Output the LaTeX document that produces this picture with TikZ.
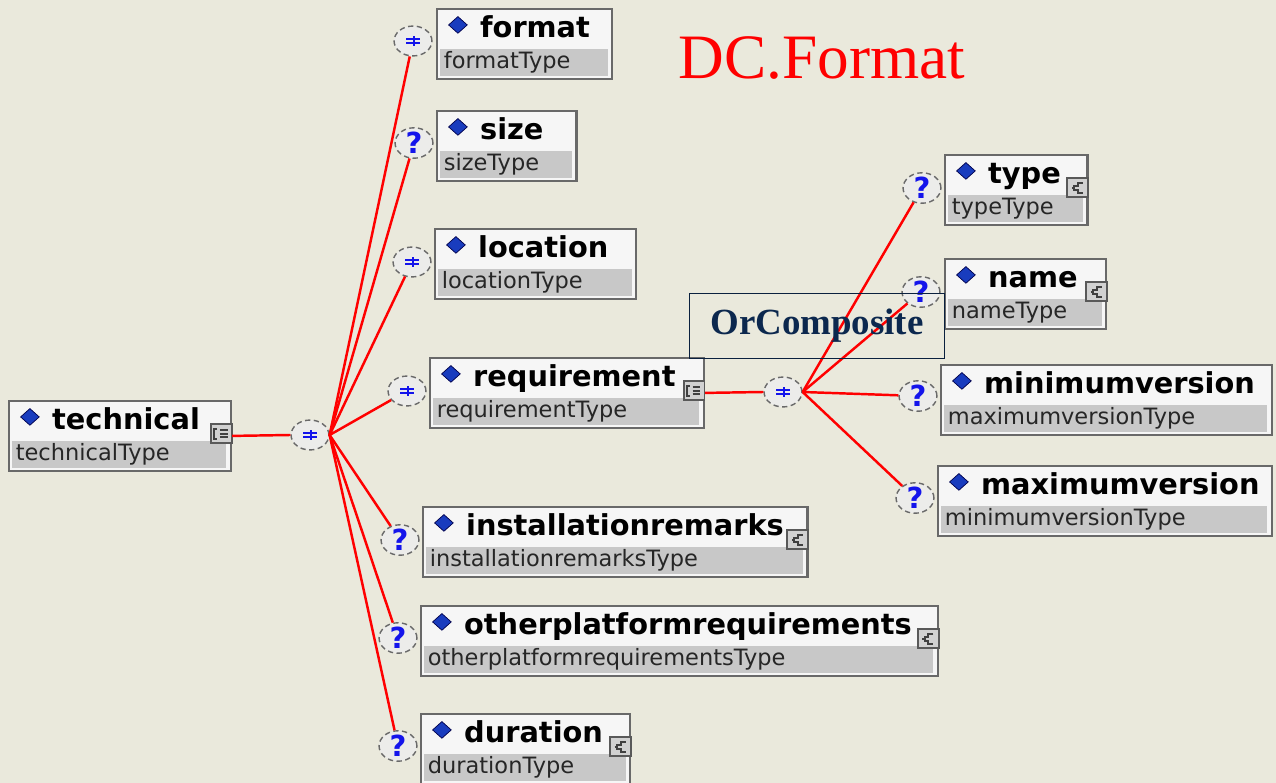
\documentclass[tikz,border=0pt]{standalone}
\usepackage{fontspec}
\setmainfont{Liberation Serif}
\newfontfamily\djv{DejaVu Sans}
\usetikzlibrary{positioning,shapes.geometric}

\definecolor{bgbeige}{RGB}{234,233,220}
\definecolor{framegray}{RGB}{105,105,105}
\definecolor{rowgray}{RGB}{200,200,200}
\definecolor{headwhite}{RGB}{246,246,246}
\definecolor{xsblue}{RGB}{20,20,235}
\definecolor{diablue}{RGB}{25,60,190}
\definecolor{navy}{RGB}{12,40,78}
\definecolor{compfill}{RGB}{236,236,234}

\def\pxu{0.5669pt}

\tikzset{
  elem/.style={draw=framegray, line width=1.2pt, fill=headwhite, anchor=north west,
    minimum height=70*\pxu, inner sep=0pt},
  elemtype/.style={fill=rowgray, anchor=south west, minimum height=28*\pxu,
    inner xsep=2pt, inner ysep=0pt, align=left, text=black!85,
    font=\djv\fontsize{12.8pt}{14pt}\selectfont},
  elemname/.style={anchor=base west, inner sep=0pt,
    font=\djv\bfseries\fontsize{16.4pt}{18pt}\selectfont},
  elemdia/.style={diamond, fill=diablue, draw=black!70!blue, line width=0.4pt,
    minimum width=19*\pxu, minimum height=17*\pxu, inner sep=0pt},
  iconbox/.style={draw=black!65, fill=black!18, line width=1.1pt,
    minimum width=21*\pxu, minimum height=19*\pxu, inner sep=0pt},
  iconmark/.style={black!75, line width=1.1pt},
  comp/.style={ellipse, draw=framegray, densely dashed, line width=0.8pt, fill=compfill,
    minimum width=38*\pxu, minimum height=30*\pxu, inner sep=0pt,
    text=xsblue, font=\djv\bfseries\fontsize{16.5pt}{16pt}\selectfont},
  seqmark/.style={xsblue, line width=1.1pt},
  link/.style={red, line width=1.4pt},
}

% element box: name, left, top, width, title, type, icon (0 none, 1 list, 2 type)
\newcommand{\xelem}[7]{%
  \node[elem, minimum width=#4*\pxu] (#1) at (#2,#3) {};
  \pgfmathsetlengthmacro\rowwd{(#4-8)*\pxu-4pt}%
  \node[elemtype, text width=\rowwd] (#1t) at ([xshift=4*\pxu, yshift=3*\pxu]#1.south west) {#6};
  \node[elemdia] (#1d) at ([xshift=22*\pxu, yshift=-17*\pxu]#1.north west) {};
  \node[elemname] (#1n) at ([xshift=44*\pxu, yshift=-30*\pxu]#1.north west) {#5};
  \ifcase#7\or
    \node[iconbox] (#1i) at ([xshift=-11*\pxu, yshift=-34*\pxu]#1.north east) {};
    \draw[iconmark] ([shift={(-2.4pt,3pt)}]#1i.center) -- ++(-1.6pt,0) -- ++(0,-6pt) -- ++(1.6pt,0);
    \draw[iconmark] ([shift={(-0.8pt,2pt)}]#1i.center) -- ++(4.4pt,0);
    \draw[iconmark] ([shift={(-0.8pt,0pt)}]#1i.center) -- ++(4.4pt,0);
    \draw[iconmark] ([shift={(-0.8pt,-2pt)}]#1i.center) -- ++(4.4pt,0);
  \or
    \node[iconbox] (#1i) at ([xshift=-11*\pxu, yshift=-34*\pxu]#1.north east) {};
    \draw[iconmark] ([shift={(3pt,2.8pt)}]#1i.center) -- ++(-2.8pt,0) -- ++(0,-1.8pt) -- ++(-2pt,0)
      -- ++(0,-2pt) -- ++(2pt,0) -- ++(0,-1.8pt) -- ++(2.8pt,0);
    \draw[iconmark] ([shift={(-3.2pt,0pt)}]#1i.center) -- ++(1.4pt,0);
  \fi
}

% compositors
\newcommand{\xseq}[2]{%
  \node[comp] (#1) at (#2) {};
  \draw[seqmark] ([shift={(-3.9pt,1.3pt)}]#1.center) -- ++(7.8pt,0);
  \draw[seqmark] ([shift={(-3.9pt,-1.3pt)}]#1.center) -- ++(7.8pt,0);
  \draw[seqmark] ([shift={(0.5pt,-2.6pt)}]#1.center) -- ++(0,5.2pt);
}
\newcommand{\xopt}[2]{\node[comp] (#1) at (#2) {?};}

\begin{document}
\begin{tikzpicture}[x=0.02cm, y=-0.02cm]
  \useasboundingbox (0,0) rectangle (1276,783);
  \fill[bgbeige] (0,0) rectangle (1276,783);

  % title
  \node[text=red, font=\fontsize{36pt}{38pt}\selectfont, inner sep=0pt] (dctitle) at (822,58) {DC.Format};

  \coordinate (c0p) at (310,435);
  \coordinate (cRp) at (783,392);

  \xelem{tech}{8}{400}{223}{technical}{technicalType}{1}
  \xelem{fmt}{436}{8}{176}{format}{formatType}{0}
  \xelem{size}{436}{110}{140}{size}{sizeType}{0}
  \xelem{loc}{434}{228}{202}{location}{locationType}{0}
  \xelem{req}{429}{357}{275}{requirement}{requirementType}{1}
  \xelem{inst}{422}{506}{386}{installationremarks}{installationremarksType}{2}
  \xelem{other}{420}{605}{519}{otherplatformrequirements}{otherplatformrequirementsType}{2}
  \xelem{dur}{420}{713}{210}{duration}{durationType}{2}
  \xelem{type}{944}{154}{143}{type}{typeType}{2}
  \xelem{name}{944}{258}{162}{name}{nameType}{2}
  \xelem{minv}{940}{364}{332}{minimumversion}{maximumversionType}{0}
  \xelem{maxv}{937}{465}{335}{maximumversion}{minimumversionType}{0}

  \xseq{c0}{c0p}
  \xseq{cfmt}{413,41}
  \xopt{csize}{414,143}
  \xseq{cloc}{412,262}
  \xseq{creq}{407,391}
  \xopt{cinst}{400,540}
  \xopt{cother}{398,638}
  \xopt{cdur}{398,746}
  \xseq{cR}{cRp}
  \xopt{ctype}{922,188}
  \xopt{cname}{921,292}
  \xopt{cmin}{918,396}
  \xopt{cmax}{915,498}

  \draw[link] (tech.east) -- (c0.west);
  \foreach \c in {cfmt,csize,cloc,creq,cinst,cother,cdur}
    \draw[link] (c0.east) -- (\c);
  \draw[link] (req.east) -- (cR.west);
  \foreach \c in {ctype,cname,cmin,cmax}
    \draw[link] (cR.east) -- (\c);

  \node[draw=navy!80!black, line width=0.9pt, minimum width=256*\pxu, minimum height=65*\pxu,
    text=navy, font=\bfseries\fontsize{21pt}{23pt}\selectfont] (orbox) at (817,326) {OrComposite};
\end{tikzpicture}
\end{document}
